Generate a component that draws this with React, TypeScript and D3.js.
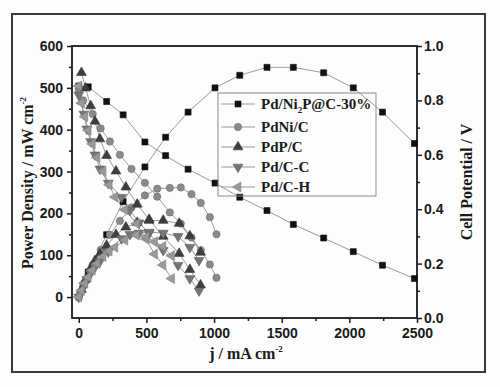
import { useEffect, useRef } from 'react';
import * as d3 from 'd3';

// Pd/Ni2P@C-30%
const J_NI2P = [0, 70, 206, 328, 489, 642, 808, 1007, 1190, 1391, 1586, 1810, 2029, 2245, 2481];
const V_NI2P = [0.853, 0.85, 0.796, 0.747, 0.647, 0.597, 0.547, 0.496, 0.444, 0.395, 0.344, 0.294, 0.244, 0.194, 0.145];
const P_NI2P = [0, 60, 149, 228, 311, 382, 442, 500, 530, 549, 549, 536, 500, 442, 367];

// PdNi/C
const J_PDNI = [0, 33, 103, 162, 230, 304, 390, 489, 580, 673, 754, 833, 902, 969, 1018];
const V_PDNI = [0.84, 0.8, 0.75, 0.697, 0.649, 0.6, 0.548, 0.497, 0.446, 0.388, 0.347, 0.296, 0.249, 0.197, 0.148];
const P_PDNI = [0, 26, 77, 113, 149, 182, 214, 243, 259, 261, 262, 246, 225, 191, 150];

// PdP/C
const J_PDP = [20, 50, 88, 120, 156, 206, 275, 348, 432, 520, 624, 742, 821, 900];
const V_PDP = [0.902, 0.845, 0.78, 0.723, 0.658, 0.597, 0.54, 0.481, 0.418, 0.362, 0.3, 0.237, 0.178, 0.121];
const P_PDP = [18, 42, 69, 87, 103, 123, 149, 167, 178, 183, 183, 176, 146, 107];

// Pd/C-C
const J_PDCC = [0, 38, 60, 88, 120, 156, 218, 316, 378, 445, 520, 624, 734, 821, 889];
const V_PDCC = [0.82, 0.75, 0.695, 0.649, 0.6, 0.548, 0.496, 0.444, 0.396, 0.35, 0.311, 0.249, 0.194, 0.145, 0.1];
const P_PDCC = [0, 28, 42, 57, 72, 85, 108, 140, 150, 153, 155, 153, 145, 119, 88];

// Pd/C-H
const J_PDCH = [0, 20, 45, 70, 100, 135, 180, 225, 267, 341, 427, 498, 560, 622, 686];
const V_PDCH = [0.853, 0.79, 0.74, 0.69, 0.64, 0.59, 0.54, 0.49, 0.445, 0.398, 0.347, 0.29, 0.235, 0.195, 0.145];
const P_PDCH = [0, 16, 33, 48, 64, 80, 97, 110, 119, 136, 148, 144, 132, 121, 99];

const X_TICKS = [0, 500, 1000, 1500, 2000, 2500];
const Y_LEFT_TICKS = [0, 100, 200, 300, 400, 500, 600];
const Y_RIGHT_TICKS = [0, 0.2, 0.4, 0.6, 0.8, 1.0];

type MarkerKind = 'square' | 'circle' | 'up' | 'down' | 'left';

const SERIES: Array<{ key: string; marker: MarkerKind; color: string; j: number[]; v: number[]; p: number[] }> = [
  { key: 'ni2p', marker: 'square', color: '#111111', j: J_NI2P, v: V_NI2P, p: P_NI2P },
  { key: 'pdni', marker: 'circle', color: '#8a8a8a', j: J_PDNI, v: V_PDNI, p: P_PDNI },
  { key: 'pdp', marker: 'up', color: '#3e3e3e', j: J_PDP, v: V_PDP, p: P_PDP },
  { key: 'pdcc', marker: 'down', color: '#757575', j: J_PDCC, v: V_PDCC, p: P_PDCC },
  { key: 'pdch', marker: 'left', color: '#999999', j: J_PDCH, v: V_PDCH, p: P_PDCH },
];

const symbolFor = (m: MarkerKind) => {
  if (m === 'square') return d3.symbol(d3.symbolSquare, 36)();
  if (m === 'circle') return d3.symbol(d3.symbolCircle, 42)();
  return d3.symbol(d3.symbolTriangle, 42)();
};
const rotFor = (m: MarkerKind) => (m === 'down' ? 180 : m === 'left' ? -90 : 0);

export default function App() {
  const svgRef = useRef<SVGSVGElement>(null);

  useEffect(() => {
    if (!svgRef.current) return;
    const svg = d3.select(svgRef.current);
    svg.selectAll('*').remove();

    const left = 72, right = 417, top = 46, bottom = 318;

    const x = d3.scaleLinear().domain([-50, 2500]).range([left, right]);
    const yP = d3.scaleLinear().domain([-50, 600]).range([bottom, top]);
    const yV = d3.scaleLinear().domain([0, 1]).range([bottom, top]);

    // outer figure border
    svg.append('rect').attr('x', 12).attr('y', 14).attr('width', 473).attr('height', 358)
      .attr('fill', 'none').attr('stroke', '#3a3a3a').attr('stroke-width', 2);

    const tickFont = (sel: any) => sel.selectAll('text')
      .style('font-family', '"Liberation Sans", Arial, sans-serif')
      .style('font-weight', 'bold').style('font-size', '14px').attr('fill', '#1a1a1a');

    const styleAxis = (sel: any) => {
      sel.select('.domain').remove();
      sel.selectAll('line').attr('stroke', '#1a1a1a').attr('stroke-width', 1.5);
    };

    // bottom axis
    const gx = svg.append('g').attr('transform', `translate(0,${bottom})`)
      .call(d3.axisBottom(x).tickValues(X_TICKS).tickSize(5).tickPadding(5).tickFormat(d3.format('d')));
    styleAxis(gx); tickFont(gx);
    const gxm = svg.append('g').attr('transform', `translate(0,${bottom})`)
      .call(d3.axisBottom(x).tickValues([250, 750, 1250, 1750, 2250]).tickSize(3).tickFormat(() => ''));
    styleAxis(gxm);

    // left axis
    const gy = svg.append('g').attr('transform', `translate(${left},0)`)
      .call(d3.axisLeft(yP).tickValues(Y_LEFT_TICKS).tickSize(5).tickPadding(4));
    styleAxis(gy); tickFont(gy);
    const gym = svg.append('g').attr('transform', `translate(${left},0)`)
      .call(d3.axisLeft(yP).tickValues([50, 150, 250, 350, 450, 550]).tickSize(3).tickFormat(() => ''));
    styleAxis(gym);

    // right axis
    const gr = svg.append('g').attr('transform', `translate(${right},0)`)
      .call(d3.axisRight(yV).tickValues(Y_RIGHT_TICKS).tickSize(5).tickPadding(2).tickFormat(d3.format('.1f')));
    styleAxis(gr); tickFont(gr);
    const grm = svg.append('g').attr('transform', `translate(${right},0)`)
      .call(d3.axisRight(yV).tickValues([0.1, 0.3, 0.5, 0.7, 0.9]).tickSize(3).tickFormat(() => ''));
    styleAxis(grm);

    // frame
    svg.append('rect').attr('x', left).attr('y', top).attr('width', right - left).attr('height', bottom - top)
      .attr('fill', 'none').attr('stroke', '#1a1a1a').attr('stroke-width', 1.8);

    const plot = svg.append('g');

    // connecting lines
    SERIES.forEach((s) => {
      const ptsV = s.j.map((j, i) => [x(j), yV(s.v[i])] as [number, number]);
      const ptsP = s.j.map((j, i) => [x(j), yP(s.p[i])] as [number, number]);
      [ptsV, ptsP].forEach((pts) => {
        plot.append('path').attr('d', d3.line()(pts)).attr('fill', 'none')
          .attr('stroke', '#9a9a9a').attr('stroke-width', 1);
      });
    });

    // markers
    SERIES.forEach((s) => {
      const pts = [
        ...s.j.map((j, i) => [x(j), yV(s.v[i])]),
        ...s.j.map((j, i) => [x(j), yP(s.p[i])]),
      ];
      plot.selectAll(`.m-${s.key}`).data(pts).enter().append('path')
        .attr('class', `m-${s.key}`)
        .attr('d', symbolFor(s.marker))
        .attr('transform', (d) => `translate(${d[0]},${d[1]}) rotate(${rotFor(s.marker)})`)
        .attr('fill', s.color)
        .attr('stroke', d3.color(s.color)!.darker(0.6).toString())
        .attr('stroke-width', 0.6);
    });

    // legend
    const lg = svg.append('g');
    lg.append('rect').attr('x', 218).attr('y', 93).attr('width', 158).attr('height', 103)
      .attr('fill', 'none').attr('stroke', '#8a8a8a').attr('stroke-width', 1);
    const rowsY = [104, 127, 147, 167, 187];
    const labels = ['Pd/Ni', 'PdNi/C', 'PdP/C', 'Pd/C-C', 'Pd/C-H'];
    SERIES.forEach((s, i) => {
      const yy = rowsY[i];
      lg.append('line').attr('x1', 221).attr('x2', 255).attr('y1', yy).attr('y2', yy)
        .attr('stroke', '#9a9a9a').attr('stroke-width', 1);
      lg.append('path').attr('d', symbolFor(s.marker))
        .attr('transform', `translate(238,${yy}) rotate(${rotFor(s.marker)})`)
        .attr('fill', s.color).attr('stroke', d3.color(s.color)!.darker(0.6).toString()).attr('stroke-width', 0.6);
      const t = lg.append('text').attr('x', 261).attr('y', yy + 5)
        .style('font-family', '"Liberation Serif", "Times New Roman", serif')
        .style('font-weight', 'bold').style('font-size', '15px').attr('fill', '#1a1a1a');
      t.append('tspan').text(labels[i]);
      if (i === 0) {
        t.append('tspan').attr('dy', 4).style('font-size', '9px').text('2');
        t.append('tspan').attr('dy', -4).text('P@C-30%');
      }
    });

    // axis titles
    const titleFont = (sel: any) => sel
      .style('font-family', '"Liberation Serif", "Times New Roman", serif')
      .style('font-weight', 'bold').style('font-size', '16px').attr('fill', '#1a1a1a');

    const tl = svg.append('text').attr('transform', 'translate(33,183) rotate(-90)').attr('text-anchor', 'middle');
    titleFont(tl);
    tl.append('tspan').text('Power Density / mW cm');
    tl.append('tspan').attr('dy', -7).style('font-size', '9px').text('-2');

    const tb = svg.append('text').attr('x', 246).attr('y', 359).attr('text-anchor', 'middle');
    titleFont(tb);
    tb.append('tspan').text('j / mA cm');
    tb.append('tspan').attr('dy', -7).style('font-size', '9px').text('-2');

    const tr = svg.append('text').attr('transform', 'translate(472,182) rotate(-90)').attr('text-anchor', 'middle');
    titleFont(tr);
    tr.text('Cell Potential / V');
  }, []);

  return (
    <svg
      ref={svgRef}
      width={500}
      height={387}
      style={{ position: 'absolute', left: 0, top: 0, background: '#fdfdfd' }}
    />
  );
}
